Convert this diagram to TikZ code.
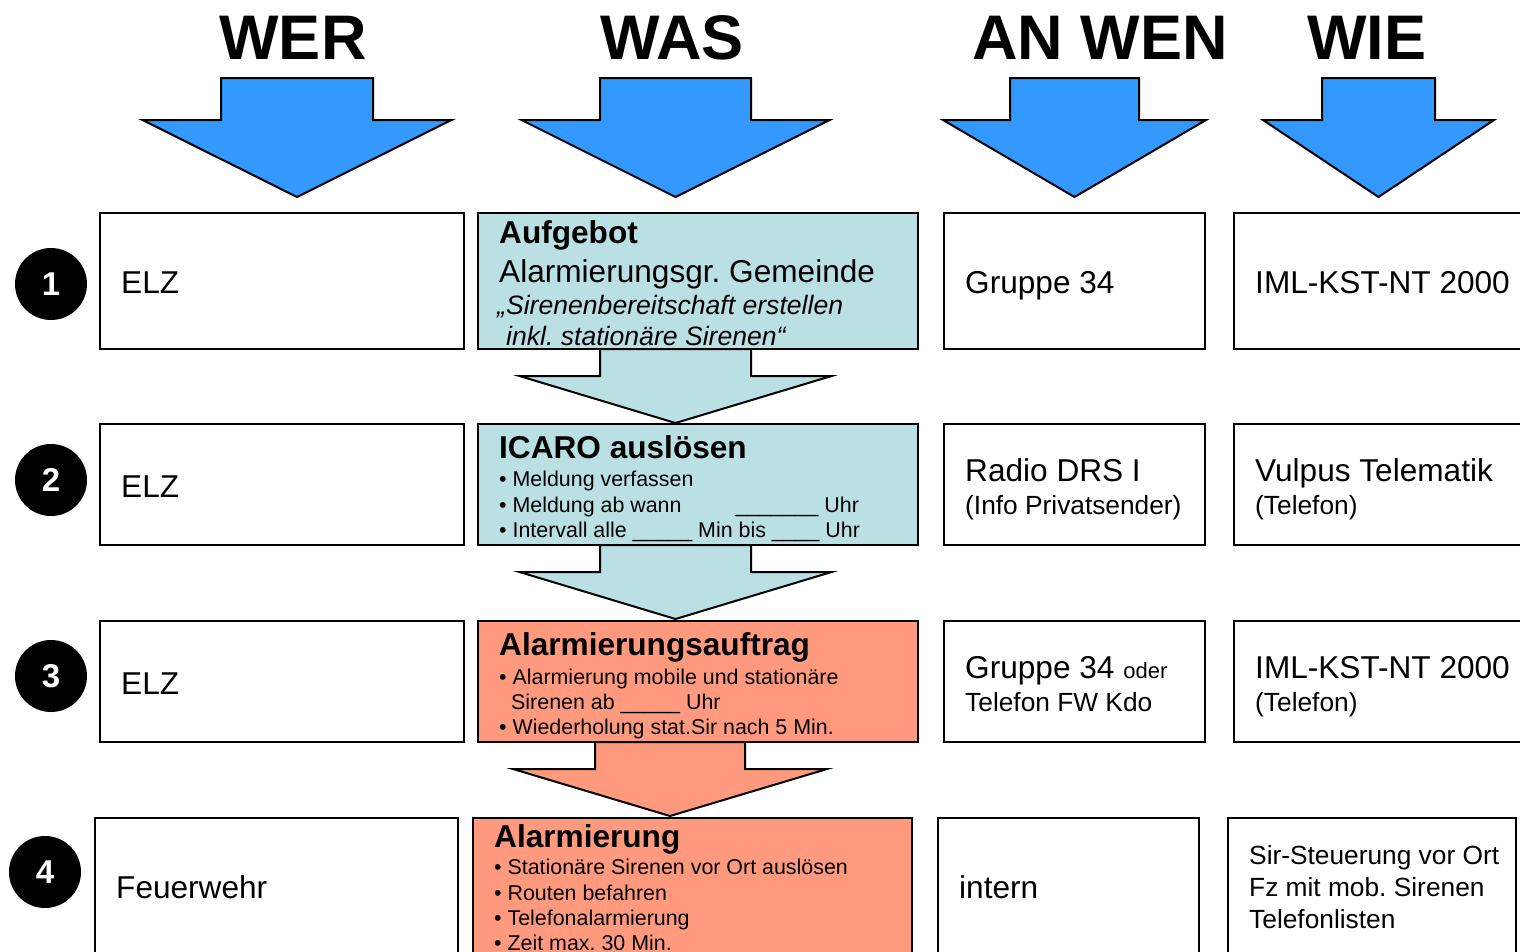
\documentclass[tikz,border=0pt]{standalone}
\usepackage{fontspec}
\setmainfont{Liberation Sans}
\frenchspacing
\definecolor{topblue}{HTML}{3399FF}
\definecolor{paleblue}{HTML}{BBE0E3}
\definecolor{salmonred}{HTML}{FF9A7E}
\tikzset{
  boxw/.style={draw=black, line width=2pt, anchor=north west, inner sep=0pt, outer sep=0pt},
  txt/.style={anchor=base west, inner sep=0pt},
  fbig/.style={font=\fontsize{31.6}{37}\selectfont},
  fmid/.style={font=\fontsize{26.3}{31}\selectfont},
  fsmall/.style={font=\fontsize{21.4}{25}\selectfont},
  fhead/.style={font=\bfseries\fontsize{31.6}{37}\selectfont},
  fital/.style={font=\itshape\fontsize{26.6}{31}\selectfont},
  ftitle/.style={font=\bfseries\fontsize{63}{75}\selectfont, anchor=base, inner sep=0pt},
  numcirc/.style={circle, fill=black, minimum size=72pt, inner sep=0pt, text=white, font=\bfseries\fontsize{33}{40}\selectfont},
  blockarrow/.style={draw=black, line width=2pt, line join=miter},
}
% #1 fill, #2 centre x, #3 top y, #4 shaft half width, #5 head y, #6 head half width, #7 tip y
\newcommand{\fatarrow}[7]{%
  \filldraw[blockarrow, fill=#1] ({#2-#4},#3) -- ({#2+#4},#3) -- ({#2+#4},#5) -- ({#2+#6},#5)
    -- (#2,#7) -- ({#2-#6},#5) -- ({#2-#4},#5) -- cycle;}
\begin{document}
\begin{tikzpicture}[x=1pt,y=-1pt]
\useasboundingbox (0,0) rectangle (1520,951);
\clip (0,0) rectangle (1520,951);

% titles
\node[ftitle] (tWer) at (293,59) {WER};
\node[ftitle] (tWas) at (672,59) {WAS};
\node[ftitle] (tAnwen) at (1100,59) {AN WEN};
\node[ftitle] (tWie) at (1367,59) {WIE};

% top arrows
\fatarrow{topblue}{297}{78}{76}{120}{154.5}{197}
\fatarrow{topblue}{675.5}{78}{75.5}{120}{154}{197}
\fatarrow{topblue}{1074.5}{78}{64.5}{120}{131.5}{197}
\fatarrow{topblue}{1378.5}{78}{56.5}{120}{115.5}{197}

% arrows between the WAS boxes
\fatarrow{paleblue}{675.5}{349}{75.5}{376}{156}{423}
\fatarrow{paleblue}{675.5}{545}{75.5}{572}{156}{619}
\fatarrow{salmonred}{670}{742}{75}{769}{157}{816}

% row 1
\node[boxw, minimum width=364pt, minimum height=136pt] (r1c1) at (100,213) {};
\node[boxw, fill=paleblue, minimum width=440pt, minimum height=136pt] (r1c2) at (478,213) {};
\node[boxw, minimum width=261pt, minimum height=136pt] (r1c3) at (944,213) {};
\node[boxw, minimum width=300pt, minimum height=136pt] (r1c4) at (1234,213) {};
% row 2
\node[boxw, minimum width=364pt, minimum height=121pt] (r2c1) at (100,424) {};
\node[boxw, fill=paleblue, minimum width=440pt, minimum height=121pt] (r2c2) at (478,424) {};
\node[boxw, minimum width=261pt, minimum height=121pt] (r2c3) at (944,424) {};
\node[boxw, minimum width=300pt, minimum height=121pt] (r2c4) at (1234,424) {};
% row 3
\node[boxw, minimum width=364pt, minimum height=121pt] (r3c1) at (100,621) {};
\node[boxw, fill=salmonred, minimum width=440pt, minimum height=121pt] (r3c2) at (478,621) {};
\node[boxw, minimum width=261pt, minimum height=121pt] (r3c3) at (944,621) {};
\node[boxw, minimum width=300pt, minimum height=121pt] (r3c4) at (1234,621) {};
% row 4
\node[boxw, minimum width=363pt, minimum height=150pt] (r4c1) at (95,818) {};
\node[boxw, fill=salmonred, minimum width=439pt, minimum height=150pt] (r4c2) at (473,818) {};
\node[boxw, minimum width=261pt, minimum height=150pt] (r4c3) at (938,818) {};
\node[boxw, minimum width=288pt, minimum height=150pt] (r4c4) at (1228,818) {};

% numbers
\node[numcirc] (n1) at (51,284) {1};
\node[numcirc] (n2) at (51,480) {2};
\node[numcirc] (n3) at (51,676) {3};
\node[numcirc] (n4) at (45,872) {4};

% row 1 texts
\node[txt, fbig] (a11) at (121,293) {ELZ};
\node[txt, fhead] (a12a) at (499,243) {Aufgebot};
\node[txt, fbig] (a12b) at (499,282) {Alarmierungsgr. Gemeinde};
\node[txt, fital] (a12c) at (497,314) {„Sirenenbereitschaft erstellen};
\node[txt, fital] (a12d) at (506,345) {inkl. stationäre Sirenen“};
\node[txt, fbig] (a13) at (965,293) {Gruppe 34};
\node[txt, fbig] (a14) at (1255,293) {IML-KST-NT 2000};

% row 2 texts
\node[txt, fbig] (a21) at (121,497) {ELZ};
\node[txt, fhead] (a22a) at (499,458) {ICARO auslösen};
\node[txt, fsmall] (a22b) at (499,486) {• Meldung verfassen};
\node[txt, fsmall] (a22c) at (499,512) {• Meldung ab wann};
\node[txt, fsmall] (a22c2) at (735,512) {\_\_\_\_\_\_\_ Uhr};
\node[txt, fsmall] (a22d) at (499,537) {• Intervall alle \_\_\_\_\_ Min bis \_\_\_\_ Uhr};
\node[txt, fbig] (a23a) at (965,481) {Radio DRS I};
\node[txt, fmid] (a23b) at (965,514) {(Info Privatsender)};
\node[txt, fbig] (a24a) at (1255,481) {Vulpus Telematik};
\node[txt, fmid] (a24b) at (1255,514) {(Telefon)};

% row 3 texts
\node[txt, fbig] (a31) at (121,694) {ELZ};
\node[txt, fhead] (a32a) at (499,655) {Alarmierungsauftrag};
\node[txt, fsmall] (a32b) at (499,684) {• Alarmierung mobile und stationäre};
\node[txt, fsmall] (a32c) at (511,709) {Sirenen ab \_\_\_\_\_ Uhr};
\node[txt, fsmall] (a32d) at (499,734) {• Wiederholung stat.Sir nach 5 Min.};
\node[txt, fbig] (a33a) at (965,678) {Gruppe 34 {\fontsize{22}{26}\selectfont oder}};
\node[txt, fmid] (a33b) at (965,711) {Telefon FW Kdo};
\node[txt, fbig] (a34a) at (1255,678) {IML-KST-NT 2000};
\node[txt, fmid] (a34b) at (1255,711) {(Telefon)};

% row 4 texts
\node[txt, fbig] (a41) at (116,898) {Feuerwehr};
\node[txt, fhead] (a42a) at (494,847) {Alarmierung};
\node[txt, fsmall] (a42b) at (494,874) {• Stationäre Sirenen vor Ort auslösen};
\node[txt, fsmall] (a42c) at (494,900) {• Routen befahren};
\node[txt, fsmall] (a42d) at (494,925) {• Telefonalarmierung};
\node[txt, fsmall] (a42e) at (494,950) {• Zeit max. 30 Min.};
\node[txt, fbig] (a43) at (959,898) {intern};
\node[txt, fmid] (a44a) at (1249,864) {Sir-Steuerung vor Ort};
\node[txt, fmid] (a44b) at (1249,896) {Fz mit mob. Sirenen};
\node[txt, fmid] (a44c) at (1249,928) {Telefonlisten};
\end{tikzpicture}
\end{document}
